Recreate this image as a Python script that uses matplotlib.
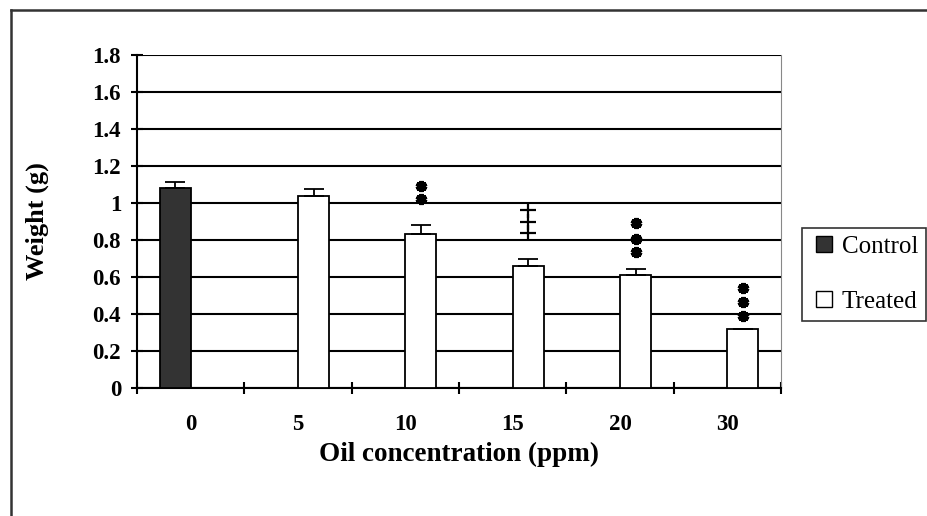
import numpy as np
import matplotlib.pyplot as plt
from matplotlib.lines import Line2D

plt.rcParams['font.family'] = ['Liberation Serif', 'DejaVu Serif']

# data
konsentrasi = ["0", "5", "10", "15", "20", "30"]
kontrol = [1.08]
kontrol_err = [0.035]
perlakuan = [1.04, 0.83, 0.66, 0.61, 0.32]
perlakuan_err = [0.035, 0.05, 0.035, 0.035, 0.0]
# posisi tanda signifikansi (indeks kategori, nilai y, jenis)
tanda_idx = [2, 3, 4, 5]
tanda_y = [[1.02, 1.09], [0.84, 0.90, 0.96], [0.735, 0.805, 0.89], [0.39, 0.465, 0.54]]
tanda_jenis = ["bintang", "plus", "bintang", "bintang"]

fig = plt.figure(figsize=(9.28, 5.16), dpi=100)
ax = fig.add_axes([137/928, 128/516, 644/928, 333/516])

lebar = 0.29
x = np.arange(len(konsentrasi))
xt = x[1:]

ax.bar(x[:1] - lebar/2, kontrol, lebar, color="#333333", edgecolor="black", lw=1.3, zorder=3)
ax.bar(xt + lebar/2, perlakuan, lebar, color="white", edgecolor="black", lw=1.3, zorder=3)
ax.errorbar(x[:1] - lebar/2, kontrol, yerr=[[0], kontrol_err], fmt="none",
            ecolor="black", elinewidth=1.3, capsize=7, capthick=1.3, zorder=4)
ax.errorbar(xt + lebar/2, perlakuan, yerr=[np.zeros(len(perlakuan)), perlakuan_err],
            fmt="none", ecolor="black", elinewidth=1.3, capsize=7, capthick=1.3, zorder=4)

# tanda signifikansi
for i, ys, jenis in zip(tanda_idx, tanda_y, tanda_jenis):
    xs = np.full(len(ys), i + lebar/2)
    if jenis == "bintang":
        ax.plot(xs, ys, ls="none", marker=(6, 2, 0), ms=8, mew=3, color="black", zorder=5)
    else:
        ax.plot(xs, ys, ls="none", marker="+", ms=12, mew=1.6, color="black", zorder=5)

ax.set_xlim(-0.5, len(konsentrasi) - 0.5)
ax.set_ylim(0, 1.8)
ax.set_yticks(np.arange(0, 1.81, 0.2))
ax.set_yticklabels(["0", "0.2", "0.4", "0.6", "0.8", "1", "1.2", "1.4", "1.6", "1.8"],
                   fontsize=16.5, fontweight="bold")
ax.yaxis.grid(True, color="black", lw=1.5, zorder=0)
ax.set_axisbelow(True)

ax.set_xticks(np.arange(-0.5, len(konsentrasi)), labels=[])
ax.set_xticks(x, labels=konsentrasi, minor=True)
ax.tick_params(axis="x", which="major", direction="inout", length=9, width=1.5)
ax.tick_params(axis="x", which="minor", length=0, pad=19, labelsize=16.5)
for lab in ax.get_xticklabels(minor=True):
    lab.set_fontweight("bold")
ax.tick_params(axis="y", direction="inout", length=9, width=1.5, pad=7)

ax.spines["left"].set_linewidth(1.5)
ax.spines["bottom"].set_linewidth(1.5)
ax.spines["top"].set_visible(False)
ax.spines["right"].set_color("#888888")

ax.set_xlabel("Oil concentration (ppm)", fontsize=19.5, fontweight="bold")
ax.xaxis.set_label_coords(0.5, -0.163)
ax.xaxis.label.set_va("top")
ax.set_ylabel("Weight (g)", fontsize=19, fontweight="bold")
ax.yaxis.set_label_coords(-0.155, 0.5)
ax.yaxis.label.set_va("center")

handles = [Line2D([], [], ls="none", marker="s", ms=11, mfc="#333333", mec="black",
                  mew=1, label="Control"),
           Line2D([], [], ls="none", marker="s", ms=11, mfc="white", mec="black",
                  mew=1, label="Treated")]
leg = fig.legend(handles=handles, loc="upper left", bbox_to_anchor=(802/928, 1 - 228/516),
                 fontsize=18, frameon=True, fancybox=False, edgecolor="black",
                 handlelength=1.2, handletextpad=0.1,
                 labelspacing=1.3, borderpad=0.3, borderaxespad=0)
leg.get_frame().set_linewidth(1.2)

# bingkai luar
fig.add_artist(Line2D([11/928, 11/928], [-0.05, 1 - 10/516], color="#333333", lw=1.8))
fig.add_artist(Line2D([11/928, 1.05], [1 - 10/516, 1 - 10/516], color="#333333", lw=1.8))

fig.savefig("out.png", dpi=100)
